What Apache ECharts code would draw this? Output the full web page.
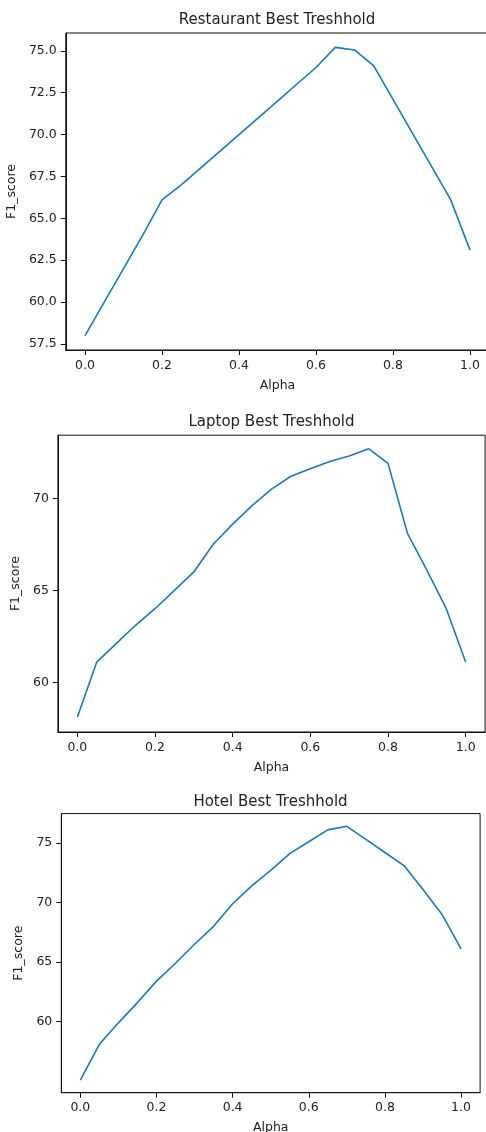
<!DOCTYPE html>
<html>
<head>
<meta charset="utf-8">
<script src="https://cdn.jsdelivr.net/npm/echarts@6/dist/echarts.min.js"></script>
<style>
  html, body { margin: 0; padding: 0; background: #fff; }
  #chart { width: 486px; height: 1132px; }
</style>
</head>
<body>
<div id="chart"></div>
<script>
// ---- data ----
const alpha = [0, 0.05, 0.1, 0.15, 0.2, 0.25, 0.3, 0.35, 0.4, 0.45, 0.5, 0.55, 0.6, 0.65, 0.7, 0.75, 0.8, 0.85, 0.9, 0.95, 1.0];
const restaurantF1 = [58.0, 60.0, 62.0, 64.0, 66.1, 67.0, 68.0, 69.0, 70.0, 71.0, 72.0, 73.0, 74.0, 75.2, 75.05, 74.1, 72.1, 70.1, 68.1, 66.1, 63.1];
const laptopF1 = [58.1, 61.1, 62.1, 63.1, 64.0, 65.0, 66.0, 67.5, 68.6, 69.6, 70.5, 71.2, 71.6, 72.0, 72.3, 72.7, 71.9, 68.1, 66.1, 64.0, 61.1];
const hotelF1 = [55.1, 58.1, 59.9, 61.6, 63.4, 64.9, 66.5, 68.0, 69.9, 71.4, 72.7, 74.1, 75.1, 76.1, 76.4, 75.3, 74.2, 73.1, 71.1, 69.0, 66.1];

const titles = ['Restaurant Best Treshhold', 'Laptop Best Treshhold', 'Hotel Best Treshhold'];
const xTicks = [0.0, 0.2, 0.4, 0.6, 0.8, 1.0];
const restaurantYTicks = [57.5, 60.0, 62.5, 65.0, 67.5, 70.0, 72.5, 75.0];
const laptopYTicks = [60, 65, 70];
const hotelYTicks = [60, 65, 70, 75];
const xName = 'Alpha';
const yName = 'F1_score';

// ---- layout (pixel positions) ----
const panels = [
  { values: restaurantF1, yTicks: restaurantYTicks, dec: 1, yMin: 57.14, yMax: 76.06,
    left: 65.75, width: 423.5, top: 33, height: 317, titleX: 277, titleY: 20, yNameGap: 43 },
  { values: laptopF1, yTicks: laptopYTicks, dec: 0, yMin: 57.3, yMax: 73.43,
    left: 57.9, width: 427.2, top: 435.2, height: 296.8, titleX: 271.5, titleY: 422, yNameGap: 32 },
  { values: hotelF1, yTicks: hotelYTicks, dec: 0, yMin: 54.035, yMax: 77.465,
    left: 61.3, width: 418.8, top: 813.6, height: 279.1, titleX: 270.5, titleY: 802, yNameGap: 30 }
];

const FONT = 'DejaVu Sans';
const TXT = '#222';
const option = { backgroundColor: '#fff', animation: false, title: [], grid: [], xAxis: [], yAxis: [], series: [] };

panels.forEach((p, i) => {
  option.title.push({
    text: titles[i], left: p.titleX, top: p.titleY, textAlign: 'center', textVerticalAlign: 'middle',
    padding: 0,
    textStyle: { fontFamily: FONT, fontSize: 15, fontWeight: 'normal', color: TXT }
  });
  option.grid.push({
    left: p.left, top: p.top, width: p.width, height: p.height,
    show: true, borderColor: '#111', borderWidth: 1, backgroundColor: 'transparent',
    containLabel: false, outerBoundsMode: 'none'
  });
  option.xAxis.push({
    type: 'value', gridIndex: i, min: -0.05, max: 1.05,
    name: xName, nameLocation: 'middle', nameGap: 29,
    nameTextStyle: { fontFamily: FONT, fontSize: 12.5, color: TXT },
    axisLine: { show: true, onZero: false, lineStyle: { color: '#111', width: 1 } },
    axisTick: { show: true, length: 5, lineStyle: { color: '#111' }, customValues: xTicks },
    axisLabel: { fontFamily: FONT, fontSize: 12.5, color: TXT, margin: 9, customValues: xTicks,
                 formatter: v => Number(v).toFixed(1) },
    splitLine: { show: false }
  });
  option.yAxis.push({
    type: 'value', gridIndex: i, min: p.yMin, max: p.yMax,
    name: yName, nameLocation: 'middle', nameGap: p.yNameGap, nameRotate: 90,
    nameTextStyle: { fontFamily: FONT, fontSize: 12.5, color: TXT },
    axisLine: { show: true, onZero: false, lineStyle: { color: '#111', width: 1 } },
    axisTick: { show: true, length: 5, lineStyle: { color: '#111' }, customValues: p.yTicks },
    axisLabel: { fontFamily: FONT, fontSize: 12.5, color: TXT, margin: 9, customValues: p.yTicks,
                 formatter: v => Number(v).toFixed(p.dec) },
    splitLine: { show: false }
  });
  option.series.push({
    type: 'line', xAxisIndex: i, yAxisIndex: i,
    data: alpha.map((a, k) => [a, p.values[k]]),
    showSymbol: false, symbol: 'none',
    lineStyle: { color: '#1f77b4', width: 1.6 },
    itemStyle: { color: '#1f77b4' }
  });
});

const chart = echarts.init(document.getElementById('chart'), null, { renderer: 'canvas' });
chart.setOption(option);
</script>
</body>
</html>
